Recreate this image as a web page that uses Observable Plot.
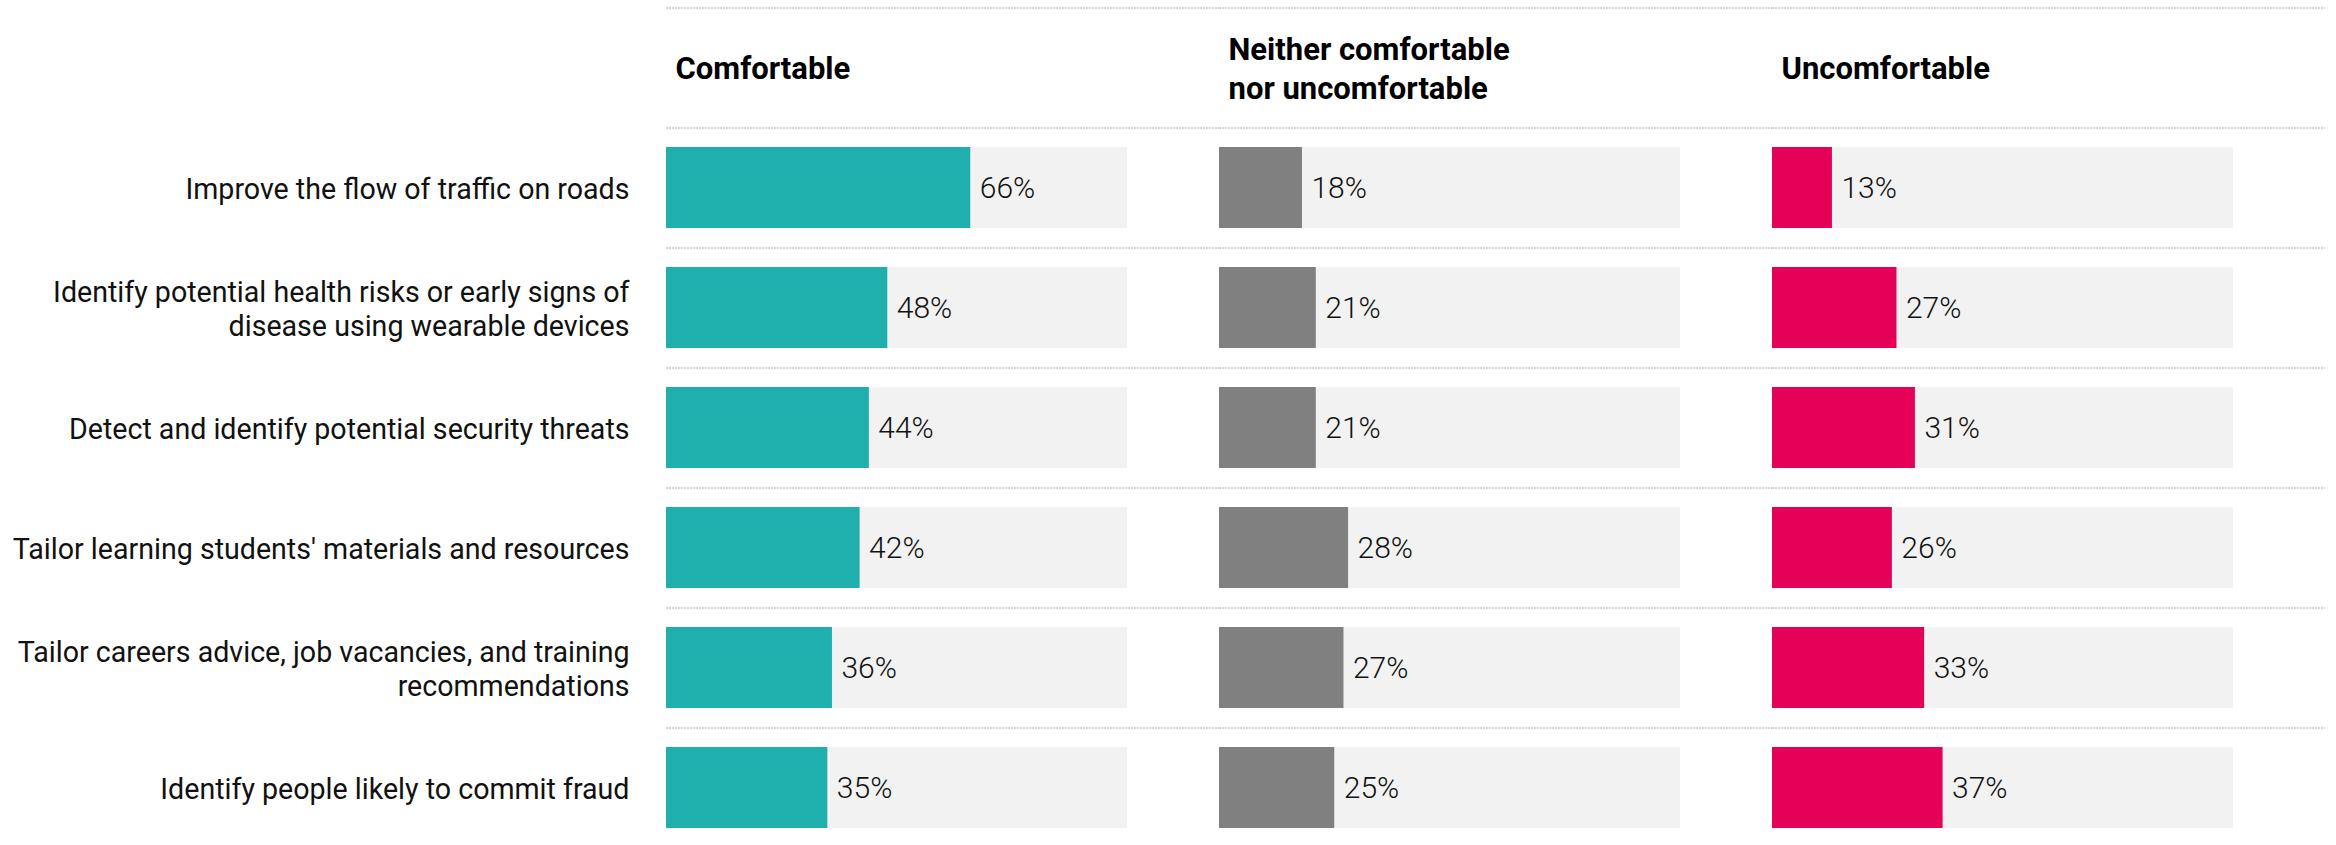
<!DOCTYPE html>
<html>
<head>
<meta charset="utf-8">
<script src="https://cdn.jsdelivr.net/npm/d3@7"></script>
<script src="https://cdn.jsdelivr.net/npm/@observablehq/plot@0.6"></script>
<style>
  html, body { margin: 0; padding: 0; background: #fff; overflow: hidden; }
</style>
</head>
<body>
<div id="chart"></div>
<script>
const statements = [
  "Improve the flow of traffic on roads",
  "Identify potential health risks or early signs of\ndisease using wearable devices",
  "Detect and identify potential security threats",
  "Tailor learning students' materials and resources",
  "Tailor careers advice, job vacancies, and training\nrecommendations",
  "Identify people likely to commit fraud"
];
const categories = ["Comfortable", "Neither", "Uncomfortable"];
const headerLabels = ["Comfortable", "Neither comfortable\nnor uncomfortable", "Uncomfortable"];
const comfortable = [66, 48, 44, 42, 36, 35];
const neither = [18, 21, 21, 28, 27, 25];
const uncomfortable = [13, 27, 31, 26, 33, 37];
const colors = ["#1fb0ae", "#808080", "#e50058"];

const series = [comfortable, neither, uncomfortable];
const table = [];
categories.forEach((cat, ci) => {
  statements.forEach((s, si) => {
    table.push({cat, statement: s, value: series[ci][si]});
  });
});
const HEADER = "__header";
const rules = [];
categories.forEach(cat => {
  [HEADER, ...statements].forEach(s => rules.push({cat, statement: s}));
});
const headers = categories.map((cat, i) => ({cat, statement: HEADER, label: headerLabels[i]}));
const rowLabels = statements.map(s => ({cat: categories[0], statement: s}));

const chart = Plot.plot({
  width: 2336,
  height: 845,
  marginLeft: 666,
  marginRight: 103,
  marginTop: 7,
  marginBottom: 0,
  style: {fontFamily: "Roboto, sans-serif", background: "#fff"},
  fx: {domain: categories, paddingInner: 0.1664, paddingOuter: 0, axis: null},
  x: {domain: [0, 100], axis: null},
  y: {domain: [HEADER, ...statements], range: [7, 847], paddingInner: 0.325, paddingOuter: 0.1625, axis: null},
  color: {domain: categories, range: colors},
  marks: [
    Plot.ruleY(rules, {fx: "cat", y: "statement", dy: -60, insetRight: -92, stroke: "#a8a8a8", strokeDasharray: "2,1", strokeWidth: 1}),
    Plot.barX(table, {fx: "cat", y: "statement", x1: 0, x2: 100, fill: "#f2f2f2"}),
    Plot.barX(table, {fx: "cat", y: "statement", x1: 0, x2: "value", fill: "cat"}),
    Plot.text(table, {fx: "cat", y: "statement", x: "value", text: d => d.value + "%", dx: 9, textAnchor: "start", fontSize: 30, fontWeight: 300, fill: "#111"}),
    Plot.text(headers, {fx: "cat", y: "statement", x: 0, text: "label", dx: 9, dy: -1, textAnchor: "start", lineAnchor: "middle", fontSize: 31, fontWeight: 700, lineHeight: 1.25, fill: "#000"}),
    Plot.text(rowLabels, {fx: "cat", y: "statement", x: 0, text: "statement", dx: -37, textAnchor: "end", lineAnchor: "middle", fontSize: 28.6, fontWeight: 400, lineHeight: 1.2, fill: "#111"})
  ]
});
document.getElementById("chart").appendChild(chart);
</script>
</body>
</html>
